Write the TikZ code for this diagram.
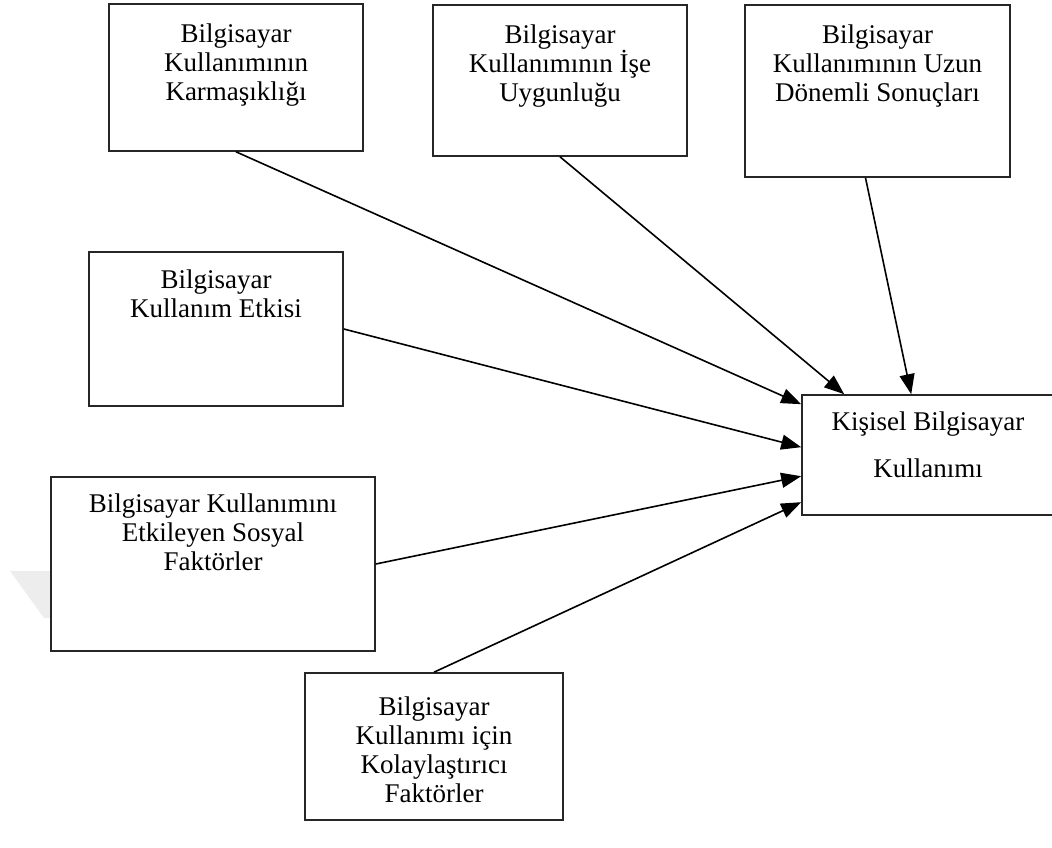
\documentclass[tikz,border=0pt]{standalone}
\usepackage{fontspec}
\setmainfont{Liberation Serif}
\usetikzlibrary{arrows.meta,calc}
\begin{document}
\begin{tikzpicture}[x=1pt,y=-1pt,
  box/.style={draw=black!85, line width=1.6pt, fill=white, rectangle, inner sep=0pt},
  lbl/.style={font=\fontsize{27}{29}\selectfont, align=center, anchor=north, inner sep=0pt},
  link/.style={line width=1.6pt, -{Triangle[length=20pt,width=15pt]}}]
\useasboundingbox (0,0) rectangle (1052,848);
% faint background mark
\fill[black!7] (10,571) -- (50,571) -- (50,618) -- (44,618) -- cycle;

% factor boxes
\node[box, minimum width=254pt, minimum height=147pt] (b1) at (236,77.5) {};
\node[box, minimum width=254pt, minimum height=151pt] (b2) at (560,80.5) {};
\node[box, minimum width=265pt, minimum height=172pt] (b3) at (877.5,91) {};
\node[box, minimum width=254pt, minimum height=154pt] (b4) at (216,329) {};
\node[box, minimum width=324pt, minimum height=174pt] (b5) at (213,564) {};
\node[box, minimum width=258pt, minimum height=147pt] (b6) at (434,746.5) {};
% outcome box
\node[box, minimum width=252pt, minimum height=120pt] (t) at (928,455) {};

% labels, hung from the top edge of each box
\node[lbl] (l1) at ($(b1.north)+(0,20)$) {Bilgisayar\\Kullanımının\\Karmaşıklığı};
\node[lbl] (l2) at ($(b2.north)+(0,20)$) {Bilgisayar\\Kullanımının İşe\\Uygunluğu};
\node[lbl] (l3) at ($(b3.north)+(0,20)$) {Bilgisayar\\Kullanımının Uzun\\Dönemli Sonuçları};
\node[lbl] (l4) at ($(b4.north)+(0,18)$) {Bilgisayar\\Kullanım Etkisi};
\node[lbl] (l5) at ($(b5.north)+(0,17)$) {Bilgisayar Kullanımını\\Etkileyen Sosyal\\Faktörler};
\node[lbl] (l6) at ($(b6.north)+(0,24)$) {Bilgisayar\\Kullanımı için\\Kolaylaştırıcı\\Faktörler};
\node[lbl] (lt) at ($(t.north)+(0,17)$) {Kişisel Bilgisayar\\[18pt]Kullanımı};

% influences
\draw[link] (b1.south) -- ($(t.north west)+(0,10)$);
\draw[link] (b2.south) -- ($(t.north west)+(43,0)$);
\draw[link] ($(b3.south)+(-12,0)$) -- ($(t.north west)+(110,0)$);
\draw[link] (b4.east) -- ($(t.north west)+(0,53)$);
\draw[link] (b5.east) -- ($(t.north west)+(0,82)$);
\draw[link] (b6.north) -- ($(t.north west)+(0,108)$);
\end{tikzpicture}
\end{document}
